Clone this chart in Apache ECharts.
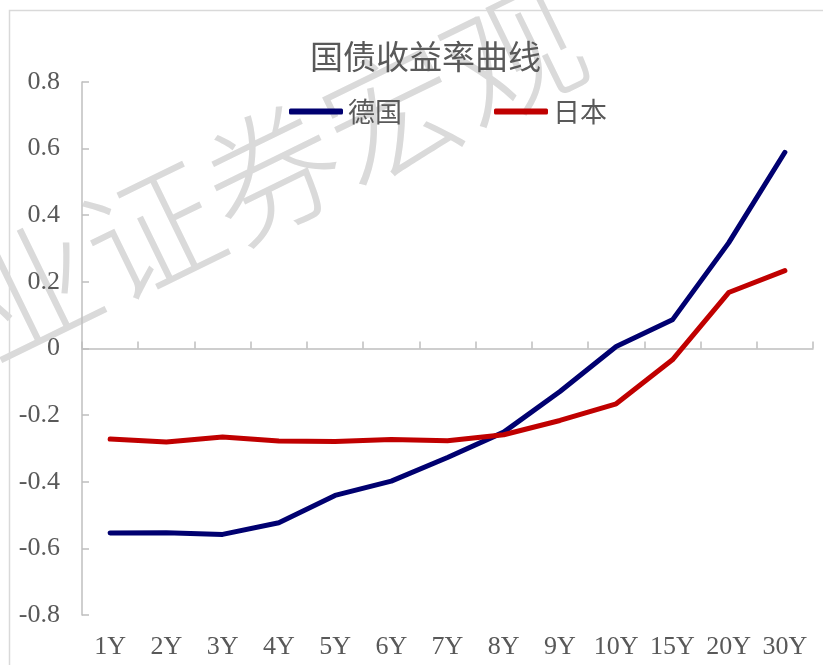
<!DOCTYPE html>
<html>
<head>
<meta charset="utf-8">
<script src="https://cdn.jsdelivr.net/npm/echarts@6/dist/echarts.min.js"></script>
<style>
  html, body { margin: 0; padding: 0; background: #fff; }
  #main { width: 823px; height: 665px; }
</style>
</head>
<body>
<div id="main"></div>
<script>
var tenors = ["1Y", "2Y", "3Y", "4Y", "5Y", "6Y", "7Y", "8Y", "9Y", "10Y", "15Y", "20Y", "30Y"];
var germany = [-0.554, -0.553, -0.558, -0.523, -0.441, -0.398, -0.327, -0.251, -0.129, 0.006, 0.086, 0.317, 0.589];
var japan = [-0.272, -0.281, -0.266, -0.278, -0.279, -0.273, -0.277, -0.259, -0.216, -0.166, -0.034, 0.168, 0.234];

var chart = echarts.init(document.getElementById("main"));
var serif = "'Liberation Serif', 'Times New Roman', serif";
var cjk = "'Noto Sans CJK SC', sans-serif";

var option = {
    backgroundColor: "#fff",
    animation: false,
    title: {
        text: "国债收益率曲线",
        left: 305,
        top: 35,
        textStyle: { fontFamily: cjk, fontSize: 33, fontWeight: "normal", color: "#595959" }
    },
    legend: {
        left: 284,
        top: 93,
        itemWidth: 54,
        itemHeight: 6,
        itemGap: 92,
        icon: "roundRect",
        textStyle: { fontFamily: cjk, fontSize: 27, color: "#595959" },
        data: ["德国", "日本"]
    },
    grid: { left: 82, right: 10, top: 82, bottom: 50, containLabel: false },
    graphic: [
        {
            type: "rect",
            z: -10,
            shape: { x: 9.5, y: 10.5, width: 900, height: 700 },
            style: { fill: "none", stroke: "#d9d9d9", lineWidth: 1.5 }
        },
        {
            type: "text",
            z: -5,
            x: 272,
            y: 172,
            rotation: 26 * Math.PI / 180,
            style: {
                text: "业证券宏观",
                fontFamily: cjk,
                fontSize: 134,
                fontWeight: 300,
                fill: "#dadada",
                align: "center",
                verticalAlign: "middle"
            }
        }
    ],
    xAxis: [
        {
            type: "category",
            data: tenors,
            position: "bottom",
            boundaryGap: true,
            axisLine: { show: false, onZero: false },
            axisTick: { show: false },
            axisLabel: { fontFamily: serif, fontSize: 26, color: "#595959", margin: 19, interval: 0 }
        },
        {
            type: "category",
            data: tenors,
            position: "bottom",
            boundaryGap: true,
            axisLine: { show: true, onZero: true, lineStyle: { color: "#bfbfbf", width: 1.5 } },
            axisTick: { show: true, inside: true, length: 7, alignWithLabel: false, lineStyle: { color: "#bfbfbf", width: 1.5 } },
            axisLabel: { show: false }
        }
    ],
    yAxis: {
        type: "value",
        min: -0.8,
        max: 0.8,
        interval: 0.2,
        axisLine: { show: true, lineStyle: { color: "#bfbfbf", width: 1.5 } },
        axisTick: { show: true, inside: true, length: 7, lineStyle: { color: "#bfbfbf", width: 1.5 } },
        splitLine: { show: false },
        axisLabel: {
            fontFamily: serif,
            fontSize: 26,
            color: "#595959",
            margin: 22,
            formatter: function (v) { return String(Math.round(v * 10) / 10); }
        }
    },
    series: [
        {
            name: "德国",
            type: "line",
            data: germany,
            showSymbol: false,
            color: "#000070",
            lineStyle: { width: 5, color: "#000070", cap: "round", join: "round" }
        },
        {
            name: "日本",
            type: "line",
            data: japan,
            showSymbol: false,
            color: "#c00000",
            lineStyle: { width: 5, color: "#c00000", cap: "round", join: "round" }
        }
    ]
};
chart.setOption(option);
</script>
</body>
</html>
